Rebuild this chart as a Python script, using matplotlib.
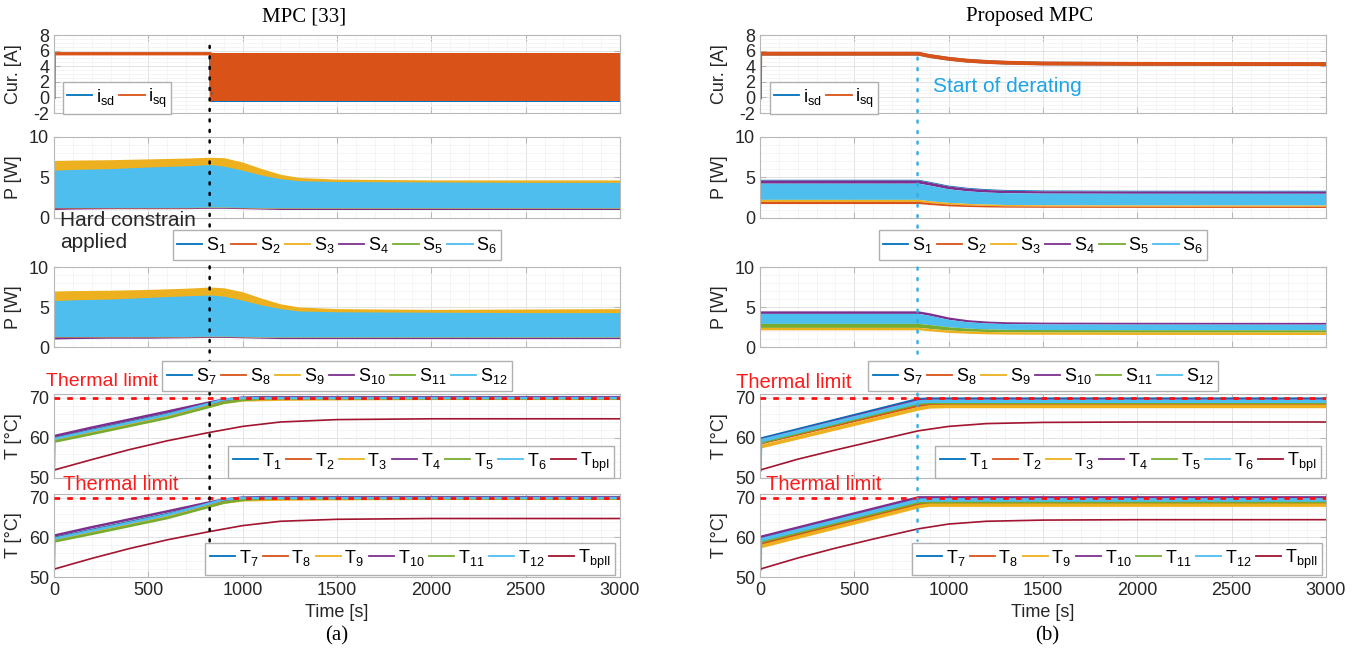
import matplotlib
matplotlib.use("Agg")
import matplotlib.pyplot as plt
from matplotlib.lines import Line2D
from matplotlib.patches import ConnectionPatch
from matplotlib.ticker import MultipleLocator

plt.rcParams["font.family"] = ["Liberation Sans", "DejaVu Sans"]
plt.rcParams["mathtext.fontset"] = "custom"
plt.rcParams["mathtext.rm"] = "Liberation Sans"
plt.rcParams["mathtext.it"] = "Liberation Sans"
plt.rcParams["axes.unicode_minus"] = False

# MATLAB default line colours
BLUE, ORANGE, YELLOW, PURPLE, GREEN, CYAN, DARKRED = (
    "#0072BD", "#D95319", "#EDB120", "#7E2F8E", "#77AC30", "#4DBEEE", "#A2142F")

# ---------------- (a) MPC [33] ----------------
cur_t_L = [0, 1, 826]
isq_L = [0.0, 5.6, 5.6]
chop_t_L = [830, 3000]
isq_hi_L = [5.75, 5.75]
isq_lo_L = [-0.45, -0.45]
isd_lo_L = [-0.55, -0.55]
isd_step_t_L = [826, 829, 833, 837]
isd_step_L = [5.6, 1.6, 0.4, 0.5]

pw_t_L = [0, 100, 300, 500, 700, 830, 900, 1000, 1100, 1200, 1300, 1500, 2000, 2500, 3000]
s3_top_L = [7.1, 7.15, 7.2, 7.3, 7.4, 7.5, 7.45, 6.9, 6.1, 5.4, 5.0, 4.8, 4.7, 4.7, 4.7]
s6_top_L = [5.9, 6.0, 6.1, 6.3, 6.45, 6.6, 6.4, 5.9, 5.3, 4.85, 4.6, 4.5, 4.45, 4.4, 4.4]
s_bot_L = [1.25, 1.25, 1.25, 1.25, 1.25, 1.3, 1.3, 1.25, 1.2, 1.2, 1.2, 1.2, 1.2, 1.2, 1.2]
s4_bot_L = [1.05, 1.1, 1.15, 1.15, 1.15, 1.2, 1.2, 1.15, 1.1, 1.05, 1.05, 1.05, 1.05, 1.05, 1.05]
s9_top_L = [7.0, 7.05, 7.1, 7.2, 7.35, 7.5, 7.4, 6.9, 6.1, 5.4, 5.0, 4.8, 4.7, 4.75, 4.8]
s12_top_L = [5.8, 5.9, 6.0, 6.2, 6.4, 6.5, 6.35, 5.85, 5.25, 4.8, 4.5, 4.4, 4.35, 4.3, 4.3]
s10_bot_L = [1.0, 1.05, 1.1, 1.1, 1.15, 1.2, 1.2, 1.15, 1.1, 1.05, 1.05, 1.05, 1.05, 1.05, 1.05]

tT_L = [0, 3, 200, 400, 600, 825, 900, 1000, 1100, 1200, 1500, 2000, 3000]
T1_L = [60.0, 60.0, 62.0, 64.0, 66.0, 68.5, 69.3, 69.9, 70.0, 70.0, 70.0, 70.0, 70.0]
T2_L = [59.8, 59.8, 61.8, 63.8, 65.8, 68.3, 69.1, 69.8, 69.9, 70.0, 70.0, 70.0, 70.0]
T3_L = [59.4, 59.4, 61.3, 63.3, 65.3, 67.9, 68.8, 69.4, 69.5, 69.6, 69.7, 69.8, 69.8]
T4_L = [60.5, 60.5, 62.6, 64.6, 66.6, 68.9, 69.6, 70.1, 70.2, 70.2, 70.2, 70.2, 70.2]
T5_L = [59.1, 59.1, 61.0, 63.0, 65.0, 67.8, 68.8, 69.5, 69.8, 69.9, 69.9, 69.9, 69.9]
T6_L = [52.0, 59.8, 61.8, 63.8, 65.8, 68.6, 69.6, 70.0, 70.0, 70.0, 70.0, 70.0, 70.0]
T7_L = [59.9, 59.9, 61.9, 63.9, 65.9, 68.5, 69.3, 69.9, 70.0, 70.0, 70.0, 70.0, 70.0]
T8_L = [59.7, 59.7, 61.7, 63.7, 65.7, 68.3, 69.1, 69.8, 69.9, 70.0, 70.0, 70.0, 70.0]
T9_L = [59.3, 59.3, 61.2, 63.2, 65.2, 67.9, 68.8, 69.4, 69.5, 69.6, 69.7, 69.8, 69.8]
T10_L = [60.5, 60.5, 62.6, 64.6, 66.6, 68.9, 69.6, 70.1, 70.2, 70.2, 70.2, 70.2, 70.2]
T11_L = [59.0, 59.0, 60.9, 62.9, 64.9, 67.8, 68.8, 69.5, 69.8, 69.9, 69.9, 69.9, 69.9]
T12_L = [52.0, 59.7, 61.7, 63.7, 65.7, 68.6, 69.6, 70.0, 70.0, 70.0, 70.0, 70.0, 70.0]
tB_L = [0, 1, 200, 400, 600, 825, 1000, 1200, 1500, 2000, 3000]
Tbp1_L = [50.0, 52.0, 54.6, 57.1, 59.3, 61.4, 62.9, 64.0, 64.6, 64.8, 64.8]
Tbp2_L = [50.0, 52.0, 54.7, 57.2, 59.4, 61.5, 63.0, 64.1, 64.6, 64.8, 64.8]

# ---------------- (b) Proposed MPC ----------------
cur_t_R = [0, 1, 840, 900, 1000, 1100, 1200, 1300, 1500, 2000, 3000]
isq_R = [0.0, 5.6, 5.6, 5.3, 4.95, 4.7, 4.55, 4.45, 4.35, 4.3, 4.27]
isd_R = [0.0, 5.6, 5.6, 5.3, 4.95, 4.7, 4.55, 4.45, 4.35, 4.3, 4.27]

pw_t_R = [0, 840, 900, 1000, 1100, 1200, 1300, 1500, 2000, 3000]
s1_top_R = [4.78, 4.78, 4.52, 4.05, 3.78, 3.62, 3.52, 3.46, 3.43, 3.42]
s4_top_R = [4.68, 4.68, 4.42, 3.95, 3.68, 3.52, 3.42, 3.36, 3.33, 3.32]
s6_top_R = [4.3, 4.3, 4.05, 3.6, 3.35, 3.2, 3.12, 3.07, 3.05, 3.05]
s6_bot_R = [2.3, 2.3, 2.12, 1.92, 1.8, 1.72, 1.67, 1.63, 1.61, 1.6]
s3_bot_R = [2.05, 2.05, 1.9, 1.72, 1.62, 1.55, 1.5, 1.47, 1.45, 1.45]
s2_bot_R = [1.78, 1.78, 1.66, 1.5, 1.42, 1.37, 1.34, 1.32, 1.31, 1.3]
s10_top_R = [4.52, 4.52, 4.27, 3.75, 3.42, 3.25, 3.16, 3.11, 3.09, 3.08]
s12_top_R = [4.2, 4.2, 3.95, 3.45, 3.15, 3.0, 2.93, 2.88, 2.86, 2.85]
s12_bot_R = [2.95, 2.95, 2.8, 2.52, 2.36, 2.26, 2.21, 2.18, 2.16, 2.15]
s11_bot_R = [2.45, 2.45, 2.32, 2.12, 2.0, 1.94, 1.9, 1.88, 1.87, 1.87]
s9_bot_R = [2.15, 2.15, 2.02, 1.82, 1.71, 1.65, 1.61, 1.59, 1.57, 1.56]

tT_R = [0, 3, 840, 900, 1000, 1500, 2000, 3000]
T1_R = [59.7, 59.7, 69.6, 69.7, 69.7, 69.7, 69.7, 69.7]
T2_R = [58.8, 58.8, 68.2, 68.4, 68.4, 68.4, 68.4, 68.4]
T3_R = [57.8, 57.8, 67.3, 67.8, 67.9, 67.9, 67.9, 67.9]
T4_R = [59.4, 59.4, 69.3, 69.4, 69.4, 69.4, 69.4, 69.4]
T5_R = [59.0, 59.0, 68.7, 68.9, 68.9, 68.9, 68.9, 68.9]
T6_R = [52.0, 59.3, 69.0, 69.2, 69.2, 69.2, 69.2, 69.2]
T7_R = [59.7, 59.7, 69.8, 69.8, 69.8, 69.8, 69.8, 69.8]
T8_R = [58.5, 58.5, 68.5, 68.7, 68.7, 68.7, 68.7, 68.7]
T9_R = [57.7, 57.7, 67.8, 68.2, 68.2, 68.2, 68.2, 68.2]
T10_R = [60.0, 60.0, 70.0, 70.0, 70.0, 70.0, 70.0, 70.0]
T11_R = [59.0, 59.0, 69.0, 69.1, 69.1, 69.1, 69.1, 69.1]
T12_R = [52.0, 59.4, 69.4, 69.5, 69.5, 69.5, 69.5, 69.5]
tB_R = [0, 1, 200, 400, 600, 840, 1000, 1200, 1500, 2000, 3000]
Tbp1_R = [50.0, 52.0, 54.7, 57.0, 59.2, 61.8, 62.9, 63.6, 63.9, 64.0, 64.0]
Tbp2_R = [50.0, 52.0, 54.8, 57.3, 59.6, 62.2, 63.4, 64.1, 64.4, 64.5, 64.5]

T_LIMIT = 70
EVENT_L = 825
EVENT_R = 835

W, H = 1369, 654
rows = [(35, 113), (137, 218), (267, 347), (394, 478), (494, 577)]
cols = [(54, 620), (760, 1326)]


def fx(x):
    return x / W


def fy(y):
    return 1 - y / H


def style(ax, ylim, yticks, yminor, bottom=False):
    ax.set_xlim(0, 3000)
    ax.set_ylim(*ylim)
    ax.set_yticks(yticks)
    ax.xaxis.set_major_locator(MultipleLocator(500))
    ax.xaxis.set_minor_locator(MultipleLocator(100))
    ax.yaxis.set_minor_locator(MultipleLocator(yminor))
    ax.grid(which="major", color="#dedede", lw=0.6)
    ax.grid(which="minor", color="#f1f1f1", lw=0.5)
    ax.set_axisbelow(True)
    for s in ax.spines.values():
        s.set_color("#b8b8b8")
        s.set_linewidth(0.8)
    ax.tick_params(which="both", direction="in", color="#b8b8b8", labelcolor="#262626",
                   labelsize=13, top=True, right=True)
    ax.tick_params(which="minor", length=0)
    ax.tick_params(which="major", length=4)
    if bottom:
        ax.set_xlabel("Time [s]", fontsize=13, color="#262626")
    else:
        ax.tick_params(labelbottom=False)


def ylab(ax, text):
    ax.set_ylabel(text, fontsize=13, color="#262626")
    ax.yaxis.set_label_coords(-0.057, 0.5)


def handles(colors):
    return [Line2D([], [], color=c, lw=1.3) for c in colors]


def legend(labels, colors, cx, cy, ncol):
    fig.legend(handles(colors), labels, loc="center", bbox_to_anchor=(fx(cx), fy(cy)),
               ncol=ncol, fontsize=13, frameon=True, fancybox=False, edgecolor="#b0b0b0",
               framealpha=1, handlelength=1.4, handletextpad=0.2, columnspacing=0.25,
               borderpad=0.25, borderaxespad=0)


fig = plt.figure(figsize=(W / 100, H / 100), dpi=100)
axes = {}
for ci, (x0, x1) in enumerate(cols):
    for ri, (y0, y1) in enumerate(rows):
        axes[ci, ri] = fig.add_axes([fx(x0), fy(y1), fx(x1 - x0), (y1 - y0) / H])

# ---- left column ----
ax = axes[0, 0]
ax.fill_between(chop_t_L, isd_lo_L, isq_hi_L[0] - 0.1, color=BLUE, lw=0)
ax.plot(isd_step_t_L, isd_step_L, color=BLUE, lw=1.2)
ax.plot(cur_t_L, isq_L, color=ORANGE, lw=2.4)
ax.fill_between(chop_t_L, isq_lo_L, isq_hi_L, color=ORANGE, lw=0)
ax.plot([cur_t_L[-1], chop_t_L[0]], [isq_L[-1], isq_lo_L[0]], color=ORANGE, lw=1.2)

ax = axes[0, 1]
ax.fill_between(pw_t_L, s4_bot_L, [b + 0.15 for b in s_bot_L], color=PURPLE, lw=0)
ax.fill_between(pw_t_L, s_bot_L, s3_top_L, color=YELLOW, lw=0)
ax.fill_between(pw_t_L, [b + 0.05 for b in s_bot_L], s6_top_L, color=CYAN, lw=0)

ax = axes[0, 2]
ax.fill_between(pw_t_L, s10_bot_L, [b + 0.15 for b in s_bot_L], color=PURPLE, lw=0)
ax.fill_between(pw_t_L, s_bot_L, s9_top_L, color=YELLOW, lw=0)
ax.fill_between(pw_t_L, [b + 0.05 for b in s_bot_L], s12_top_L, color=CYAN, lw=0)

for ax, temps, bp in [(axes[0, 3], [T1_L, T2_L, T3_L, T4_L, T5_L, T6_L], Tbp1_L),
                      (axes[0, 4], [T7_L, T8_L, T9_L, T10_L, T11_L, T12_L], Tbp2_L)]:
    for vals, c in zip(temps, [BLUE, ORANGE, YELLOW, PURPLE, GREEN, CYAN]):
        ax.plot(tT_L, vals, color=c, lw=1.8)
    ax.plot(tB_L, bp, color=DARKRED, lw=1.2)

# ---- right column ----
ax = axes[1, 0]
ax.plot(cur_t_R, isd_R, color=BLUE, lw=2.5)
ax.plot(cur_t_R, isq_R, color=ORANGE, lw=2.8)

ax = axes[1, 1]
ax.fill_between(pw_t_R, s4_top_R, s1_top_R, color=BLUE, lw=0)
ax.fill_between(pw_t_R, s6_top_R, s4_top_R, color=PURPLE, lw=0)
ax.fill_between(pw_t_R, s6_bot_R, s6_top_R, color=CYAN, lw=0)
ax.fill_between(pw_t_R, s3_bot_R, s6_bot_R, color=YELLOW, lw=0)
ax.fill_between(pw_t_R, s2_bot_R, s3_bot_R, color=ORANGE, lw=0)

ax = axes[1, 2]
ax.fill_between(pw_t_R, s12_top_R, s10_top_R, color=PURPLE, lw=0)
ax.fill_between(pw_t_R, s12_bot_R, s12_top_R, color=CYAN, lw=0)
ax.fill_between(pw_t_R, s11_bot_R, s12_bot_R, color=GREEN, lw=0)
ax.fill_between(pw_t_R, s9_bot_R, s11_bot_R, color=YELLOW, lw=0)

for ax, temps, bp in [(axes[1, 3], [T1_R, T2_R, T3_R, T4_R, T5_R, T6_R], Tbp1_R),
                      (axes[1, 4], [T7_R, T8_R, T9_R, T10_R, T11_R, T12_R], Tbp2_R)]:
    for vals, c in zip(temps, [BLUE, ORANGE, YELLOW, PURPLE, GREEN, CYAN]):
        ax.plot(tT_R, vals, color=c, lw=2.6)
    ax.plot(tB_R, bp, color=DARKRED, lw=1.2)

# ---- axes styling ----
for ci in range(2):
    style(axes[ci, 0], (-2, 8), [-2, 0, 2, 4, 6, 8], 0.5)
    ylab(axes[ci, 0], "Cur. [A]")
    for ri in (1, 2):
        style(axes[ci, ri], (0, 10), [0, 5, 10], 1)
        ylab(axes[ci, ri], "P [W]")
    for ri in (3, 4):
        style(axes[ci, ri], (50, 71), [50, 60, 70], 2, bottom=(ri == 4))
        ylab(axes[ci, ri], "T [°C]")
        axes[ci, ri].axhline(T_LIMIT, color="#FF1010", lw=2, dashes=(2, 2.6), zorder=5)

# ---- event markers ----
for ci, tx, y0, y1, col in [(0, EVENT_L, 6.6, 55.6, "black"), (1, EVENT_R, 5.1, 59.2, "#35aee8")]:
    con = ConnectionPatch(xyA=(tx, y0), coordsA="data", axesA=axes[ci, 0],
                          xyB=(tx, y1), coordsB="data", axesB=axes[ci, 4],
                          color=col, lw=1.8, linestyle=(0, (0.8, 3.4)), zorder=2)
    fig.add_artist(con)

# ---- legends ----
legend([r"$\mathrm{i_{sd}}$", r"$\mathrm{i_{sq}}$"], [BLUE, ORANGE], 117, 98, 2)
legend([r"$\mathrm{i_{sd}}$", r"$\mathrm{i_{sq}}$"], [BLUE, ORANGE], 824, 98, 2)
s_colors = [BLUE, ORANGE, YELLOW, PURPLE, GREEN, CYAN]
t_colors = s_colors + [DARKRED]
for cx in (337, 1043):
    legend([r"$\mathrm{S_{%d}}$" % k for k in range(1, 7)], s_colors, cx, 245, 6)
    legend([r"$\mathrm{S_{%d}}$" % k for k in range(7, 13)], s_colors, cx, 376, 6)
legend([r"$\mathrm{T_{%d}}$" % k for k in range(1, 7)] + [r"$\mathrm{T_{bpI}}$"], t_colors, 421, 462, 7)
legend([r"$\mathrm{T_{%d}}$" % k for k in range(7, 13)] + [r"$\mathrm{T_{bpII}}$"], t_colors, 410, 559, 7)
legend([r"$\mathrm{T_{%d}}$" % k for k in range(1, 7)] + [r"$\mathrm{T_{bpI}}$"], t_colors, 1128, 462, 7)
legend([r"$\mathrm{T_{%d}}$" % k for k in range(7, 13)] + [r"$\mathrm{T_{bpII}}$"], t_colors, 1117, 559, 7)

# ---- annotations ----
red = "#FF1A1A"
fig.text(fx(46), fy(382), "Thermal limit", color=red, fontsize=14, ha="left", va="center")
fig.text(fx(63), fy(484), "Thermal limit", color=red, fontsize=14.5, ha="left", va="center")
fig.text(fx(736), fy(382), "Thermal limit", color=red, fontsize=14.5, ha="left", va="center")
fig.text(fx(766), fy(484), "Thermal limit", color=red, fontsize=14.5, ha="left", va="center")
fig.text(fx(60), fy(220), "Hard constrain", color="#262626", fontsize=15, ha="left", va="center")
fig.text(fx(60), fy(243), "applied", color="#262626", fontsize=15, ha="left", va="center")
fig.text(fx(933), fy(86), "Start of derating", color="#1ea5e6", fontsize=15, ha="left", va="center")

serif = ["Liberation Serif", "DejaVu Serif"]
fig.text(fx(304), fy(17), "MPC [33]", family=serif, fontsize=15, ha="center", va="center")
fig.text(fx(1030), fy(17), "Proposed MPC", family=serif, fontsize=15, ha="center", va="center")
fig.text(fx(337), fy(636), "(a)", family=serif, fontsize=15, ha="center", va="center")
fig.text(fx(1047), fy(636), "(b)", family=serif, fontsize=15, ha="center", va="center")

fig.savefig("out.png", dpi=100)
plt.close(fig)
